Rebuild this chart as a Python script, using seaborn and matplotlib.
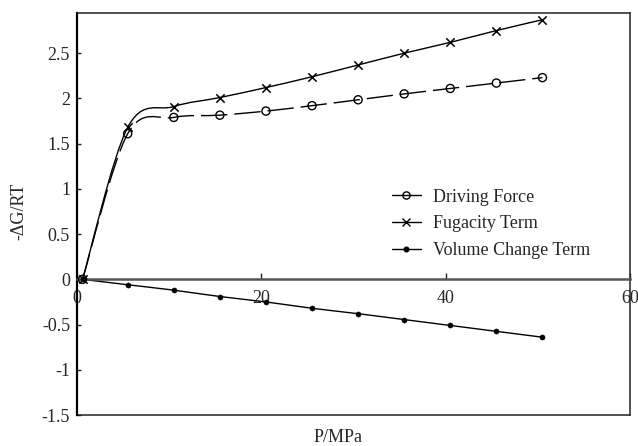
import numpy as np
import pandas as pd
import matplotlib
matplotlib.use("Agg")
import matplotlib.pyplot as plt
import seaborn as sns
from matplotlib.path import Path
from matplotlib.patches import PathPatch
from matplotlib.lines import Line2D

# data
pressure = [0.6, 5.5, 10.5, 15.5, 20.5, 25.5, 30.5, 35.5, 40.5, 45.5, 50.5]
driving_force = [0.0, 1.61, 1.79, 1.815, 1.86, 1.92, 1.985, 2.05, 2.11, 2.17, 2.23]
fugacity_term = [0.0, 1.68, 1.91, 2.01, 2.12, 2.24, 2.37, 2.50, 2.62, 2.75, 2.87]
volume_term = [0.0, -0.06, -0.12, -0.19, -0.25, -0.32, -0.38, -0.445, -0.51, -0.575, -0.64]

x_ticks = [0, 20, 40, 60]
y_ticks = [-1.5, -1, -0.5, 0, 0.5, 1, 1.5, 2, 2.5]
y_tick_labels = ["-1.5", "-1", "-0.5", "0", "0.5", "1", "1.5", "2", "2.5"]


def smooth_path(x, y):
    # Excel-style smoothed line (Catmull-Rom as cubic Bezier)
    pts = np.column_stack([x, y]).astype(float)
    padded = np.vstack([pts[0], pts, pts[-1]])
    verts = [pts[0]]
    codes = [Path.MOVETO]
    for i in range(len(pts) - 1):
        p0, p1, p2, p3 = padded[i], padded[i + 1], padded[i + 2], padded[i + 3]
        verts += [p1 + (p2 - p0) / 6, p2 - (p3 - p1) / 6, p2]
        codes += [Path.CURVE4] * 3
    return Path(verts, codes)


sns.set_style("ticks")
plt.rcParams['font.family'] = ['Liberation Serif', 'DejaVu Serif']
plt.rcParams['font.size'] = 13

df = pd.DataFrame({'P': pressure, 'df': driving_force,
                   'fug': fugacity_term, 'vol': volume_term})

fig = plt.figure(figsize=(6.38, 4.46), dpi=100)
ax = fig.add_axes([77 / 638, 31 / 446, 553 / 638, 402.5 / 446])

series = [
    ('df', 'Driving Force', (0, (19, 5)), dict(marker='o', s=34, facecolor='none', edgecolor='black', linewidth=1.0)),
    ('fug', 'Fugacity Term', '-', dict(marker='x', s=36, color='black', linewidth=1.1)),
    ('vol', 'Volume Change Term', '-', dict(marker='o', s=14, color='black', edgecolor='black')),
]

for col, label, ls, mk in series:
    patch = PathPatch(smooth_path(df['P'], df[col]), facecolor='none',
                      edgecolor='black', lw=1.0, linestyle=ls, zorder=2)
    ax.add_patch(patch)
    sns.scatterplot(data=df, x='P', y=col, ax=ax, zorder=3, legend=False, **mk)

ax.set_xlim(0, 60)
ax.set_ylim(-1.5, 2.95)
ax.set_xticks(x_ticks)
ax.set_yticks(y_ticks)
ax.set_yticklabels(y_tick_labels)

ax.spines['bottom'].set_position(('data', 0))
ax.spines['bottom'].set_color('#555555')
ax.spines['bottom'].set_linewidth(1.8)
ax.spines['left'].set_linewidth(1.6)
ax.spines['left'].set_color('black')
for s in ['top', 'right']:
    ax.spines[s].set_linewidth(1.1)
    ax.spines[s].set_color('#222222')
ax.axhline(-1.5, color='#222222', lw=1.1, clip_on=False, zorder=1)

ax.tick_params(axis='x', direction='in', length=4, width=1, pad=8, labelsize=13)
ax.tick_params(axis='y', direction='in', length=3, width=1, pad=5, labelsize=13)

ax.set_xlabel('P/MPa', fontsize=13)
ax.set_ylabel('-ΔG/RT', fontsize=13)
ax.xaxis.set_label_coords(0.472, -0.035)
ax.yaxis.set_label_coords(-0.09, 0.506)

handles = [
    Line2D([], [], color='black', lw=1.0, marker='o', markersize=5.2, markerfacecolor='none', markeredgewidth=1.0),
    Line2D([], [], color='black', lw=1.0, marker='x', markersize=5.5),
    Line2D([], [], color='black', lw=1.0, marker='o', markersize=3.3),
]
labels = [s[1] for s in series]
fig.legend(handles, labels, loc='center left', bbox_to_anchor=(383 / 638, 222 / 446),
           frameon=False, borderpad=0, handlelength=1.6, handletextpad=0.65,
           labelspacing=0.55, fontsize=13)

fig.savefig('out.png', dpi=100)
